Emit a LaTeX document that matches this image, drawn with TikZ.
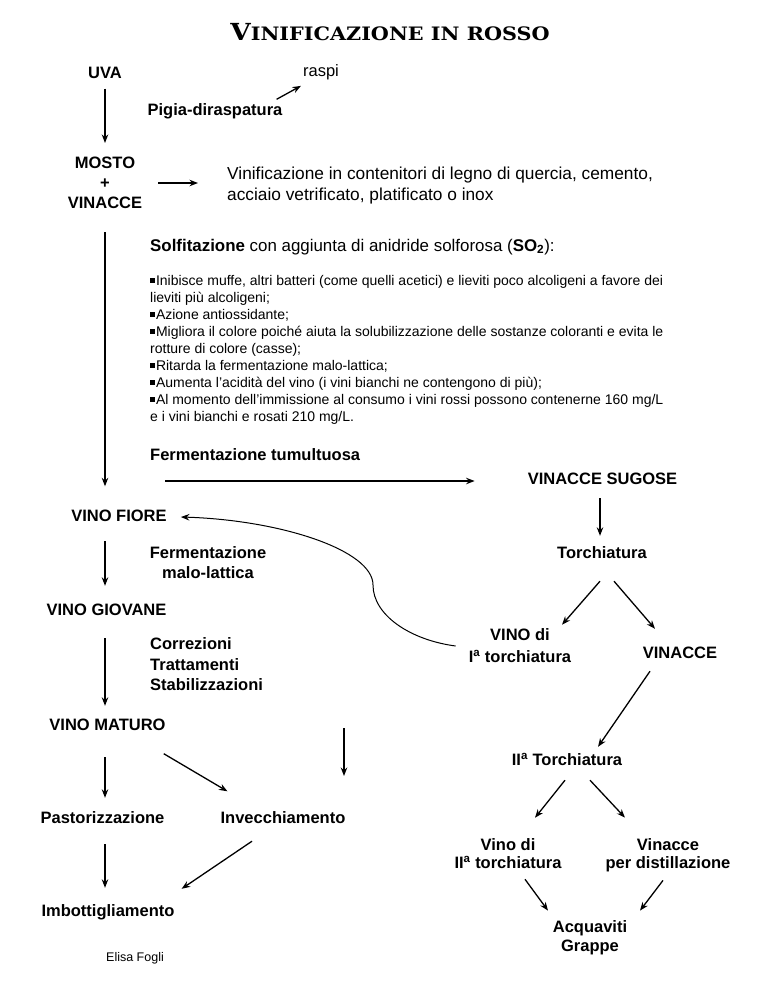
\documentclass[tikz,border=0pt]{standalone}
\usepackage{fontspec}
\setmainfont{Liberation Sans}
\newfontfamily\titlefont{DejaVu Serif}
\usepackage{tikz}
\usetikzlibrary{arrows.meta}
\tikzset{
  arr/.style={-{Stealth[length=8.5pt,width=6.5pt]}, line width=1.3pt},
  lbl/.style={font=\bfseries\fontsize{16.5}{20}\selectfont, inner sep=0pt, text height=12pt, text depth=3pt},
  lbls/.style={font=\bfseries\fontsize{16.5}{20}\selectfont, inner sep=0pt, align=center},
  txt/.style={font=\fontsize{17.3}{21}\selectfont, inner sep=0pt, align=left}
}
\newcommand{\blt}{\raisebox{2.6pt}{\rule{4.3pt}{4.3pt}}\hspace{1.5pt}}
\newcommand{\ord}{\textsuperscript{a}}

\begin{document}
\begin{tikzpicture}[x=1pt,y=-1pt]
                \useasboundingbox (0,0) rectangle (768,994);
                \fill[white] (0,0) rectangle (768,994);

                % Title
                \node[inner sep=0pt] (title) at (390,32)
                    {\scalebox{1.12}[1]{\titlefont\bfseries{\fontsize{23.5}{24}\selectfont V}{\fontsize{18.5}{24}\selectfont INIFICAZIONE IN ROSSO}}};

                %Left column
                \node[lbl] (uva) at (105,74) {UVA};
                \node[inner sep=0pt, font=\fontsize{16.5}{20}\selectfont] (raspi) at (321,72) {raspi};
                \node[lbl] (pigia) at (215,111) {Pigia-diraspatura};
                \node[lbls] (mosto) at (105,183) {MOSTO\\+\\VINACCE};
                \node[txt, anchor=west] (vinif) at (227,185.5)
                    {Vinificazione in contenitori di legno di quercia, cemento,\\acciaio vetrificato, platificato o inox};

                % Solfitazione
                \node[txt, anchor=base west, font=\fontsize{16.9}{21}\selectfont] (solf) at (150,251)
                    {\textbf{Solfitazione} con aggiunta di anidride solforosa (\textbf{SO\textsubscript{2}}):};
                \node[inner sep=0pt, align=left, anchor=north west, font=\fontsize{14}{17}\selectfont] (effetti) at (150,275)
                    {\blt Inibisce muffe, altri batteri (come quelli acetici) e lieviti poco alcoligeni a favore dei\\
                     lieviti più alcoligeni;\\
                     \blt Azione antiossidante;\\
                     \blt Migliora il colore poiché aiuta la solubilizzazione delle sostanze coloranti e evita le\\
                     rotture di colore (casse);\\
                     \blt Ritarda la fermentazione malo-lattica;\\
                     \blt Aumenta l’acidità del vino (i vini bianchi ne contengono di più);\\
                     \blt Al momento dell’immissione al consumo i vini rossi possono contenerne 160 mg/L\\
                     e i vini bianchi e rosati 210 mg/L.};

                \node[lbl, anchor=west] (tumult) at (150,456) {Fermentazione tumultuosa};
                \coordinate (tumstart) at (165,481);

                \node[lbl] (fiore) at (119,517) {VINO FIORE};
                \node[lbls] (malo) at (208,563) {Fermentazione\\malo-lattica};
                \node[lbl] (giovane) at (106.5,611) {VINO GIOVANE};
                \node[lbls, align=left, anchor=west, font=\bfseries\fontsize{16.5}{20.5}\selectfont] (corr) at (150,664.5)
                    {Correzioni\\Trattamenti\\Stabilizzazioni};
                \node[lbl] (maturo) at (107.5,726) {VINO MATURO};
                \node[lbl] (pasto) at (102.5,819) {Pastorizzazione};
                \node[lbl] (invec) at (283,819) {Invecchiamento};
                \node[lbl] (imbot) at (108,912) {Imbottigliamento};
                \node[inner sep=0pt, font=\fontsize{12.5}{15}\selectfont] (firma) at (135,958) {Elisa Fogli};
                \coordinate (vtop) at (344,728);
                \coordinate (vbot) at (344,776);

                %Right column
                \node[lbl] (sugose) at (602.5,480) {VINACCE SUGOSE};
                \node[lbl] (torch) at (602,554) {Torchiatura};
                \node[lbls, font=\bfseries\fontsize{16.5}{22}\selectfont] (vino1) at (520,646) {VINO di\\I\ord{} torchiatura};
                \node[lbl] (vinacce) at (680,654) {VINACCE};
                \node[lbl] (torch2) at (567,761) {II\ord{} Torchiatura};
                \node[lbls, font=\bfseries\fontsize{16.5}{18}\selectfont] (vino2) at (508,854) {Vino di\\II\ord{} torchiatura};
                \node[lbls, font=\bfseries\fontsize{16.5}{18}\selectfont] (vinacce2) at (668,855.5) {Vinacce\\per distillazione};
                \node[lbls, font=\bfseries\fontsize{16.5}{19}\selectfont] (acqua) at (590,938) {Acquaviti\\Grappe};

                %arrows left
                \draw[arr, shorten <=7pt, shorten >=14pt] (uva.south) -- (uva.south |- mosto.north);
                \draw[arr] ([xshift=-6pt,yshift=4pt]pigia.north east) -- ([xshift=-2pt,yshift=-6pt]raspi.south west);
                \draw[arr, shorten <=16pt, shorten >=29pt] (mosto.east) -- (mosto.east -| vinif.west);
                \draw[arr, shorten <=23pt, shorten >=23pt] (mosto.south) -- (mosto.south |- fiore.north);
                \draw[arr, shorten >=53pt] (tumstart) -- (tumstart -| sugose.west);
                \draw[arr, shorten <=16.5pt, shorten >=17.5pt] (fiore.south -| uva.south) -- (giovane.north -| uva.south);
                \draw[arr, shorten <=19.5pt, shorten >=12.5pt] (giovane.south -| uva.south) -- (maturo.north -| uva.south);
                \draw[arr, shorten <=23.5pt, shorten >=13.5pt] (maturo.south -| uva.south) -- (pasto.north -| uva.south);
                \draw[arr] ([xshift=-2pt,yshift=-20pt]maturo.south east) -- ([xshift=7pt,yshift=20pt]invec.north west);
                \draw[arr, shorten <=17.5pt, shorten >=16.5pt] (pasto.south -| uva.south) -- (imbot.north -| uva.south);
                \draw[arr] ([xshift=-31pt,yshift=-14.5pt]invec.south) -- ([xshift=7pt,yshift=15.5pt]imbot.north east);
                \draw[arr] (vtop) -- (vbot);

                %arrows right
                \draw[arr, shorten <=10.5pt, shorten >=10.5pt] ([xshift=-2.5pt]sugose.south) -- ([xshift=-2.5pt]sugose.south |- torch.north);
                \draw[arr] ([xshift=-2pt,yshift=-19.5pt]torch.south) -- ([xshift=42pt,yshift=4pt]vino1.north);
                \draw[arr] ([xshift=12pt,yshift=-19.5pt]torch.south) -- ([xshift=-25pt,yshift=17.5pt]vinacce.north);
                \draw[arr] ([xshift=-30pt,yshift=-9.5pt]vinacce.south) -- ([xshift=31pt,yshift=6.5pt]torch2.north);
                \draw[arr] ([xshift=-2pt,yshift=-11.5pt]torch2.south) -- ([xshift=27pt,yshift=21pt]vino2.north);
                \draw[arr] ([xshift=23pt,yshift=-11.5pt]torch2.south) -- ([xshift=-43pt,yshift=21pt]vinacce2.north);
                \draw[arr] ([xshift=17pt,yshift=-10pt]vino2.south) -- ([xshift=-42pt,yshift=10pt]acqua.north);
                \draw[arr] ([xshift=-5pt,yshift=-8pt]vinacce2.south) -- ([xshift=50pt,yshift=10pt]acqua.north);

                %return of the wine to VINO FIORE
                \draw[arr, line width=1pt] ([xshift=-13pt]vino1.west)
                    .. controls (410,640) and (373,615) .. (373,585)
                    .. controls (373,550) and (280,520) .. ([xshift=14pt]fiore.east);
\end{tikzpicture}
\end{document}
